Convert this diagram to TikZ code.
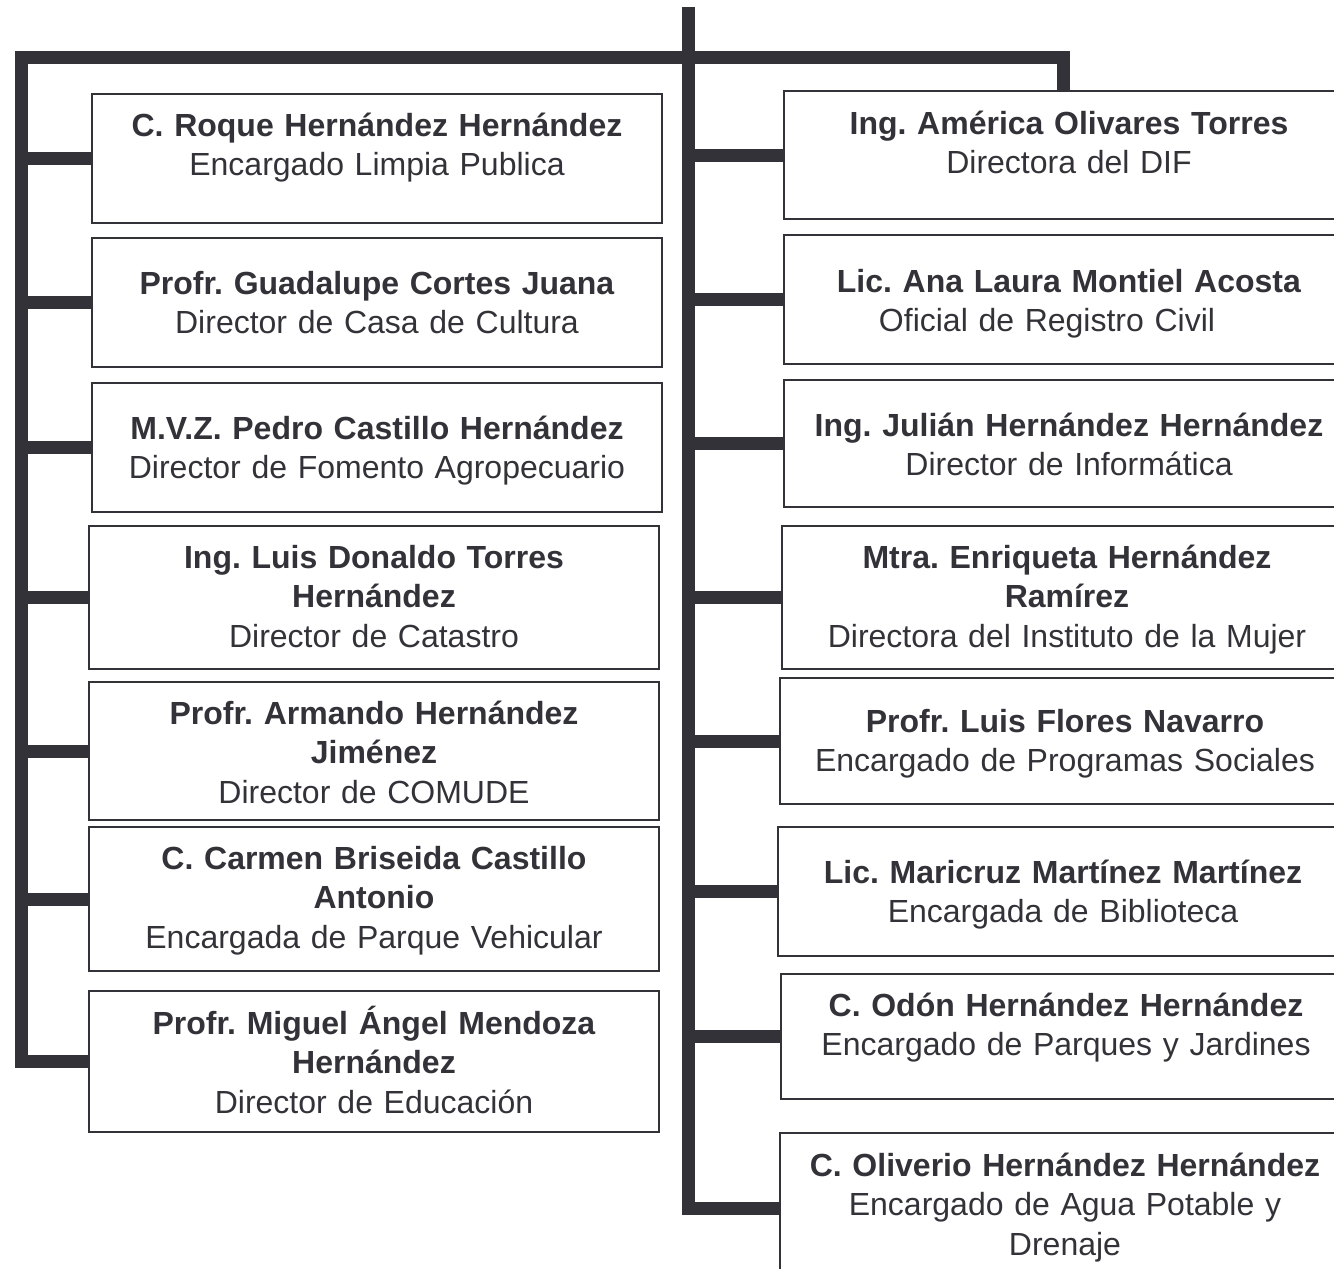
\documentclass[tikz,border=0pt]{standalone}
\usepackage{fontspec}
\setmainfont{Liberation Sans}
\frenchspacing
\definecolor{tinta}{RGB}{50,50,56}
\begin{document}
\begin{tikzpicture}[x=0.5pt,y=-0.5pt,
  cargo/.style={draw=tinta,line width=1pt,rectangle,anchor=north west,inner sep=0pt,
    text width=285pt,align=center,text=tinta,font=\fontsize{16pt}{19.75pt}\selectfont},
  conn/.style={draw=tinta,line width=6.5pt,line join=miter}]
  \clip (0,0) rectangle (1334,1269);
  % columna izquierda
  \node[cargo,text height=21pt,text depth=43.5pt] (roque) at (91,93) {\textbf{C. Roque Hernández Hernández}\\Encargado Limpia Publica};
  \node[cargo,text height=28pt,text depth=36.5pt] (guadalupe) at (91,237) {\textbf{Profr. Guadalupe Cortes Juana}\\Director de Casa de Cultura};
  \node[cargo,text height=28pt,text depth=36.5pt] (pedro) at (91,382) {\textbf{M.V.Z. Pedro Castillo Hernández}\\Director de Fomento Agropecuario};
  \node[cargo,text height=21pt,text depth=50.5pt] (luis) at (88,525) {\textbf{Ing. Luis Donaldo Torres}\\\textbf{Hernández}\\Director de Catastro};
  \node[cargo,text height=21pt,text depth=48pt] (armando) at (88,681) {\textbf{Profr. Armando Hernández}\\\textbf{Jiménez}\\Director de COMUDE};
  \node[cargo,text height=21pt,text depth=51pt] (carmen) at (88,826) {\textbf{C. Carmen Briseida Castillo}\\\textbf{Antonio}\\Encargada de Parque Vehicular};
  \node[cargo,text height=21.5pt,text depth=49pt] (miguel) at (88,990) {\textbf{Profr. Miguel Ángel Mendoza}\\\textbf{Hernández}\\Director de Educación};
  % columna derecha
  \node[cargo,text height=21.5pt,text depth=42.5pt] (america) at (783,90) {\textbf{Ing. América Olivares Torres}\\Directora del DIF};
  \node[cargo,text height=28.5pt,text depth=36pt] (ana) at (783,234) {\textbf{Lic. Ana Laura Montiel Acosta}\\Oficial de Registro Civil\hspace*{22pt}};
  \node[cargo,text height=28pt,text depth=35.5pt] (julian) at (783,379) {\textbf{Ing. Julián Hernández Hernández}\\Director de Informática};
  \node[cargo,text height=21pt,text depth=50.5pt] (enriqueta) at (781,525) {\textbf{Mtra. Enriqueta Hernández}\\\textbf{Ramírez}\\Directora del Instituto de la Mujer};
  \node[cargo,text height=27pt,text depth=36pt] (flores) at (779,677) {\textbf{Profr. Luis Flores Navarro}\\Encargado de Programas Sociales};
  \node[cargo,text height=28pt,text depth=36.5pt] (maricruz) at (777,826) {\textbf{Lic. Maricruz Martínez Martínez}\\Encargada de Biblioteca};
  \node[cargo,text height=21pt,text depth=41.5pt] (odon) at (780,973) {\textbf{C. Odón Hernández Hernández}\\Encargado de Parques y Jardines};
  \node[cargo,text height=21.5pt,text depth=53.5pt] (oliverio) at (779,1132) {\textbf{C. Oliverio Hernández Hernández}\\Encargado de Agua Potable y\\Drenaje};
  % lineas
  \coordinate (top) at (688,7);
  \coordinate (lcorner) at (21,57);
  \coordinate (rcorner) at (1063,57);
  \draw[conn] (miguel.west) -| (lcorner) -- (rcorner) -- (rcorner |- america.north);
  \draw[conn] (top) -- (top |- oliverio.west) -- (oliverio.west);
  \draw[conn] (lcorner |- roque.west) -- (roque.west);
  \draw[conn] (lcorner |- guadalupe.west) -- (guadalupe.west);
  \draw[conn] (lcorner |- pedro.west) -- (pedro.west);
  \draw[conn] (lcorner |- luis.west) -- (luis.west);
  \draw[conn] (lcorner |- armando.west) -- (armando.west);
  \draw[conn] (lcorner |- carmen.west) -- (carmen.west);
  \draw[conn] (top |- america.west) -- (america.west);
  \draw[conn] (top |- ana.west) -- (ana.west);
  \draw[conn] (top |- julian.west) -- (julian.west);
  \draw[conn] (top |- enriqueta.west) -- (enriqueta.west);
  \draw[conn] (top |- flores.west) -- (flores.west);
  \draw[conn] (top |- maricruz.west) -- (maricruz.west);
  \draw[conn] (top |- odon.west) -- (odon.west);
\end{tikzpicture}
\end{document}
